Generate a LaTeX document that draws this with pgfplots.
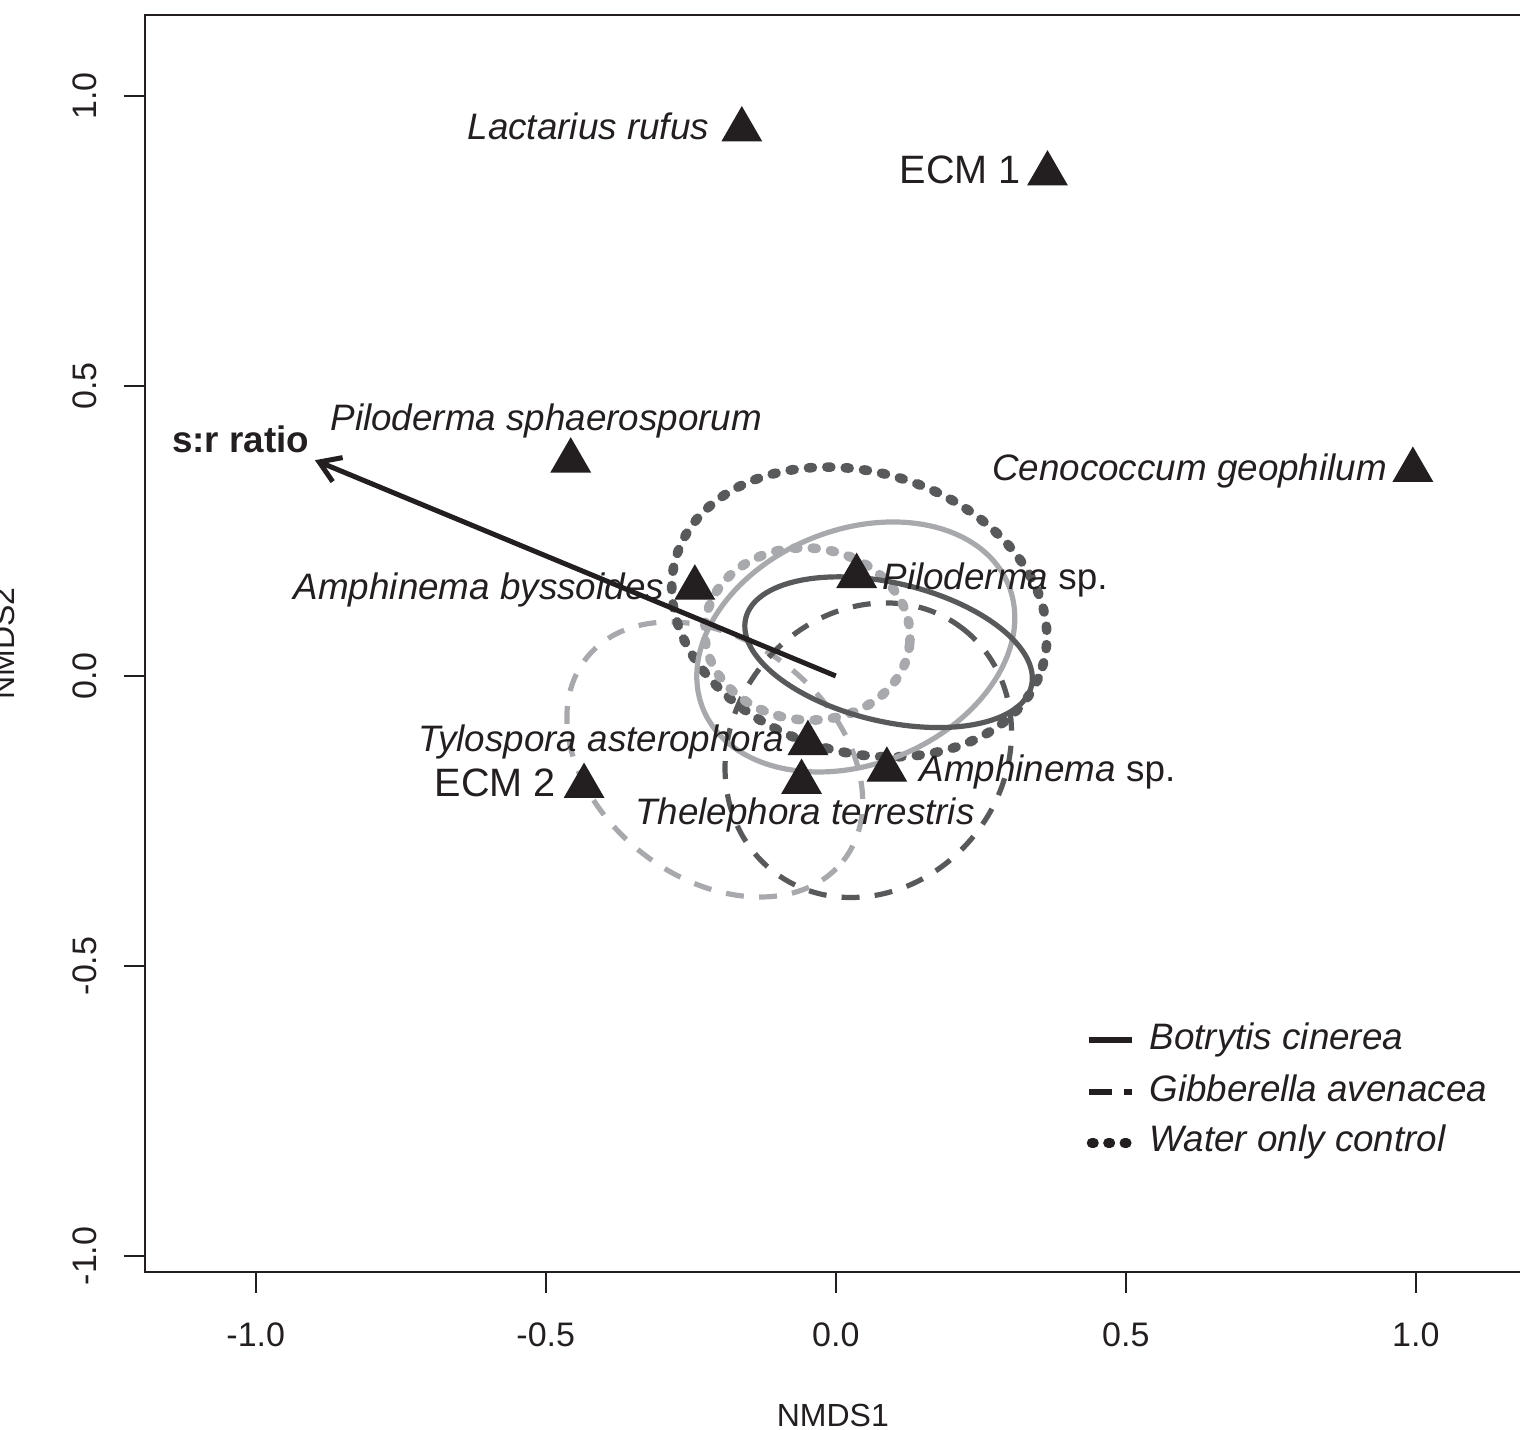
\documentclass[border=0pt]{standalone}
\usepackage{pgfplots}
\pgfplotsset{compat=1.18}
\usepackage{fontspec}
\setmainfont{Liberation Sans}
\usetikzlibrary{arrows.meta}
\definecolor{ink}{HTML}{231F20}
\definecolor{dk}{HTML}{58595B}
\definecolor{lt}{HTML}{A7A9AC}
\newcommand{\lab}{\fontsize{9.2}{11}\selectfont}
\newcommand{\ecm}{\fontsize{9.9}{12}\selectfont}
\newcommand{\axf}{\fontsize{8}{9.6}\selectfont}
\newcommand{\tkf}{\fontsize{8.5}{10}\selectfont}
\pgfplotstableread{
x y
-0.162 0.942
0.365 0.866
-0.457 0.371
0.995 0.355
0.036 0.172
-0.243 0.152
-0.048 -0.116
-0.059 -0.183
0.088 -0.162
-0.434 -0.190
}\species
\tikzset{
  solidl/.style={line width=1.3pt},
  dashl/.style={line width=1.3pt, dash pattern=on 4.5pt off 3.8pt},
  dotl/.style={line width=2.4pt, dash pattern=on 1pt off 3.6pt, line cap=round},
}
\begin{document}
\begin{tikzpicture}
\begin{axis}[
  at={(36.25pt,39.5pt)}, anchor=south west,
  x=145pt, y=145pt,
  xmin=-1.191, xmax=1.19, ymin=-1.0276, ymax=1.1397,
  axis line style={line width=0.6pt, ink},
  clip=false,
  xtick={-1,-0.5,0,0.5,1}, xticklabels={-1.0,-0.5,0.0,0.5,1.0},
  ytick={-1,-0.5,0,0.5,1}, yticklabels={-1.0,-0.5,0.0,0.5,1.0},
  xtick pos=bottom, ytick pos=left,
  tick align=outside, major tick length=5.25pt,
  tick style={line width=0.5pt, ink},
  ticklabel style={font=\tkf, text=ink, inner sep=0pt},
  xticklabel style={anchor=base, yshift=-13.3pt},
  yticklabel style={xshift=-6.9pt, rotate=90, anchor=base},
]
% ellipses
\draw[lt, dashl, rotate around={-38.3:(axis cs:-0.2086,-0.144)}] (axis cs:-0.2086,-0.144) ellipse [x radius=40.9pt, y radius=29.6pt];
\draw[dk, dashl, rotate around={51.5:(axis cs:0.056,-0.128)}] (axis cs:0.056,-0.128) ellipse [x radius=38.5pt, y radius=34.0pt];
\draw[dk, dotl, rotate around={-16.6:(axis cs:0.0405,0.1103)}] (axis cs:0.0405,0.1103) ellipse [x radius=47.8pt, y radius=35.0pt];
\draw[lt, dotl, rotate around={-5:(axis cs:-0.049,0.0724)}] (axis cs:-0.049,0.0724) ellipse [x radius=25.7pt, y radius=21.5pt];
\draw[lt, solidl, rotate around={22:(axis cs:0.0345,0.050)}] (axis cs:0.0345,0.050) ellipse [x radius=41.2pt, y radius=29.3pt];
\draw[dk, solidl, rotate around={-13.3:(axis cs:0.091,0.041)}] (axis cs:0.091,0.041) ellipse [x radius=36.7pt, y radius=17.3pt];
% vector
\addplot[ink, line width=1.25pt, -{Straight Barb[length=5pt,width=6.5pt]}] coordinates {(0,0) (-0.898,0.372)};
% species
\addplot[only marks, mark=triangle*, mark size=5.6pt, mark options={fill=ink, draw=ink, line width=0.3pt}] table {\species};
% labels
\begin{scope}[every node/.style={inner sep=0pt, text=ink, font=\lab}]
\node[anchor=base east] at (axis cs:-0.2172,0.9241) {\itshape Lactarius rufus};
\node[anchor=base east, font=\ecm] at (axis cs:0.3207,0.8483) {ECM 1};
\node[anchor=base] at (axis cs:-0.4991,0.4224) {\itshape Piloderma sphaerosporum};
\node[anchor=base, font=\lab\bfseries] at (axis cs:-1.0259,0.3845) {s:r ratio};
\node[anchor=base east] at (axis cs:0.9517,0.3362) {\itshape Cenococcum geophilum};
\node[anchor=base west] at (axis cs:0.0793,0.1483) {{\itshape Piloderma} sp.};
\node[anchor=base east] at (axis cs:-0.2948,0.131) {\itshape Amphinema byssoides};
\node[anchor=base east] at (axis cs:-0.0879,-0.131) {\itshape Tylospora asterophora};
\node[anchor=base east, font=\ecm] at (axis cs:-0.481,-0.2086) {ECM 2};
\node[anchor=base west] at (axis cs:0.1431,-0.1828) {{\itshape Amphinema} sp.};
\node[anchor=base] at (axis cs:-0.0534,-0.2569) {\itshape Thelephora terrestris};
% legend
\draw[ink, solidl] (axis cs:0.4362,-0.6276) -- (axis cs:0.5103,-0.6276);
\draw[ink, line width=1.3pt, dash pattern=on 5.75pt off 3pt] (axis cs:0.4362,-0.7172) -- (axis cs:0.5103,-0.7172);
\draw[ink, line width=2.4pt, dash pattern=on 0.6pt off 3.5pt, line cap=round] (axis cs:0.4410,-0.8052) -- (axis cs:0.5103,-0.8052);
\node[anchor=base west] at (axis cs:0.5397,-0.6448) {\itshape Botrytis cinerea};
\node[anchor=base west] at (axis cs:0.5397,-0.7345) {\itshape Gibberella avenacea};
\node[anchor=base west] at (axis cs:0.5397,-0.8207) {\itshape Water only control};
% axis titles
\node[anchor=base, font=\axf] at (axis cs:-0.005,-1.2948) {NMDS1};
\node[anchor=base, font=\axf, rotate=90] at (axis cs:-1.4155,0.056) {NMDS2};
\end{scope}
\end{axis}
\pgfresetboundingbox
\path (0,0) rectangle (380pt,357.5pt);
\end{tikzpicture}
\end{document}
